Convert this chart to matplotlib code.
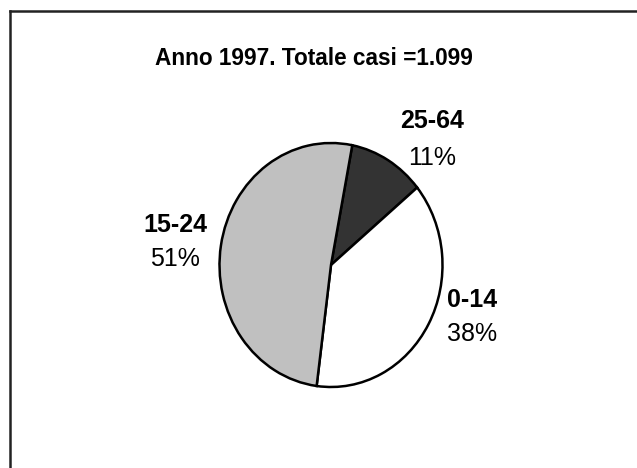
import matplotlib.pyplot as plt
from matplotlib.lines import Line2D

plt.rcParams["font.family"] = ["Liberation Sans", "DejaVu Sans"]

# dati (percentuali)
categorie = ["25-64", "0-14", "15-24"]
valori = [11, 38, 51]
colori = ["#333333", "#ffffff", "#c0c0c0"]
titolo = "Anno 1997. Totale casi =1.099"

W, H = 637, 468
fig = plt.figure(figsize=(W / 100, H / 100), dpi=100)

def fx(px):
    return px / W

def fy(py):
    return 1 - py / H

# cornice (bordi sinistro e superiore)
fig.add_artist(Line2D([fx(10), 1], [fy(11), fy(11)], color="#222222", lw=1.8))
fig.add_artist(Line2D([fx(10), fx(10)], [0, fy(11)], color="#222222", lw=1.8))

# torta (leggermente ellittica come l'originale)
cx, cy, rx, ry = 331, 265, 111.5, 122
ax = fig.add_axes([fx(cx - rx), fy(cy + ry), 2 * rx / W, 2 * ry / H])
wedges, _ = ax.pie(valori, colors=colori, startangle=79, counterclock=False,
                   radius=1, wedgeprops=dict(edgecolor="black", linewidth=1.8))
for w in wedges:
    w.set_clip_on(False)
ax.set_aspect("auto")
ax.set_xlim(-1, 1)
ax.set_ylim(-1, 1)
ax.axis("off")

fig.text(fx(313.5), fy(65), titolo, ha="center", va="baseline",
         fontsize=16.3, fontweight="bold")

# etichette: (x centro, baseline nome, baseline percentuale) in pixel
pos = {"25-64": (432, 128, 165), "0-14": (472, 307, 341), "15-24": (175, 232, 266)}
for cat, v in zip(categorie, valori):
    x, y1, y2 = pos[cat]
    fig.text(fx(x), fy(y1), cat, ha="center", va="baseline",
             fontsize=18, fontweight="bold")
    fig.text(fx(x), fy(y2), f"{v}%", ha="center", va="baseline", fontsize=18)

plt.savefig("out.png", dpi=100)
